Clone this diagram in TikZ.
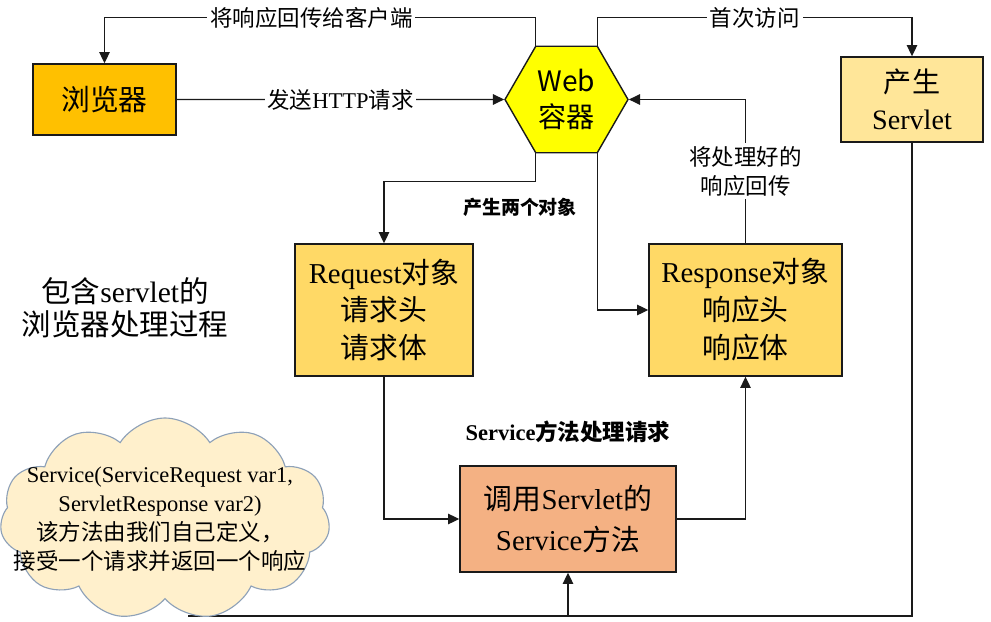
\documentclass[tikz,border=0pt]{standalone}
\usepackage{fontspec}
\setmainfont{Liberation Serif}
\newfontfamily\cjk{Noto Sans CJK SC}
\newcommand{\zh}[1]{{\cjk #1}}
\usetikzlibrary{arrows.meta, shapes.geometric, shapes.symbols}
\definecolor{brorange}{HTML}{FFC000}
\definecolor{webyellow}{HTML}{FFFF00}
\definecolor{paleorange}{HTML}{FFE699}
\definecolor{objgold}{HTML}{FFD966}
\definecolor{salmon}{HTML}{F4B183}
\definecolor{cloudfill}{HTML}{FFF0CC}
\definecolor{cloudline}{HTML}{8EA1B8}
\definecolor{dkline}{HTML}{1A1A1A}

\begin{document}
\begin{tikzpicture}[
  >={Triangle[length=2.8mm, width=2.6mm]},
  box/.style={draw=dkline, line width=1pt, align=center, inner sep=0pt},
  conn/.style={draw=dkline, line width=1pt},
  lbl/.style={fill=white, inner sep=2pt, font=\fontsize{16}{21}\selectfont},
  boldlbl/.style={font=\bfseries\fontsize{13.5}{16}\selectfont},
]

% Canvas
\useasboundingbox (0,0) rectangle (24.775,15.525);
\fill[white] (0,0) rectangle (24.775,15.525);

% --- Top row ---
\node[box, fill=brorange, minimum width=3.575cm, minimum height=1.775cm,
  font=\fontsize{20.5}{24}\selectfont] (browser) at (2.6125,13.0375) {\zh{浏览器}};
\node[regular polygon, regular polygon sides=6, minimum size=3.075cm,
  draw=dkline, fill=webyellow, line width=1pt, inner sep=0pt, align=center,
  font=\fontsize{20}{25}\selectfont] (web) at (14.1625,13.0375) {\zh{Web}\\\zh{容器}};
\node[box, fill=paleorange, minimum width=3.55cm, minimum height=2.125cm,
  font=\fontsize{20}{26}\selectfont] (servlet) at (22.8,13.0375) {\zh{产生}\\Servlet};

% --- Request / Response objects ---
\node[box, fill=objgold, minimum width=4.45cm, minimum height=3.3cm,
  font=\fontsize{20.5}{27}\selectfont] (request) at (9.6,7.775)
  {Request\zh{对象}\\\zh{请求头}\\\zh{请求体}};
\node[box, fill=objgold, minimum width=4.825cm, minimum height=3.3cm,
  font=\fontsize{20.5}{27}\selectfont] (response) at (18.6375,7.775)
  {Response\zh{对象}\\\zh{响应头}\\\zh{响应体}};

% --- Service method ---
\node[box, fill=salmon, minimum width=5.4cm, minimum height=2.65cm,
  font=\fontsize{20.5}{29}\selectfont] (service) at (14.2,2.55)
  {\zh{调用}Servlet\zh{的}\\Service\zh{方法}};

% Caption on the left
\node[align=center, font=\fontsize{21}{23.5}\selectfont] (caption) at (3.125,7.825)
  {\zh{包含}servlet\zh{的}\\\zh{浏览器处理过程}};

% Connections
\draw[conn, ->] (browser) -- node[lbl] (httplbl) {\zh{发送}HTTP\zh{请求}} (web);
\draw[conn, ->] (web.120) -- ++(0,0.7) -| node[lbl, pos=0.26] (backlbl) {\zh{将响应回传给客户端}} (browser);
\draw[conn, ->] (web.60) -- ++(0,0.7) -| node[lbl, pos=0.25] (firstlbl) {\zh{首次访问}} (servlet);
\draw[conn, ->] (web.240) -- ++(0,-0.7) -| (request);
\draw[conn, ->] (web.300) |- (response);
\draw[conn, ->] (response) |- node[lbl, pos=0.25, align=center] (retlbl)
  {\zh{将处理好的}\\\zh{响应回传}} (web);
\draw[conn, ->] (request) |- (service);
\draw[conn, ->] (service) -| (response);

\node[boldlbl] (twoobj) at (13.0,10.35) {\zh{产生两个对象}};
\node[boldlbl, font=\bfseries\fontsize{16}{18}\selectfont] (svclbl) at (14.2,4.725) {Service\zh{方法处理请求}};

% Bottom return line
\coordinate (tail) at (4.7,0.125);
\coordinate (join) at (14.2,0.125);
\draw[conn] (servlet) |- (tail);
\draw[conn, ->] (join) -- (service);

% Cloud note
\node[cloud, cloud puffs=11, cloud puff arc=115, cloud ignores aspect,
  draw=cloudline, fill=cloudfill, line width=0.8pt,
  minimum width=8.25cm, minimum height=5.05cm] (note) at (4.125,2.55) {};
\node[align=center, font=\fontsize{16}{20.6}\selectfont] (notetext) at (4.0,2.55)
  {Service(ServiceRequest var1,\\ServletResponse var2)\\
   \zh{该方法由我们自己定义，}\\\zh{接受一个请求并返回一个响应}};

\end{tikzpicture}
\end{document}
